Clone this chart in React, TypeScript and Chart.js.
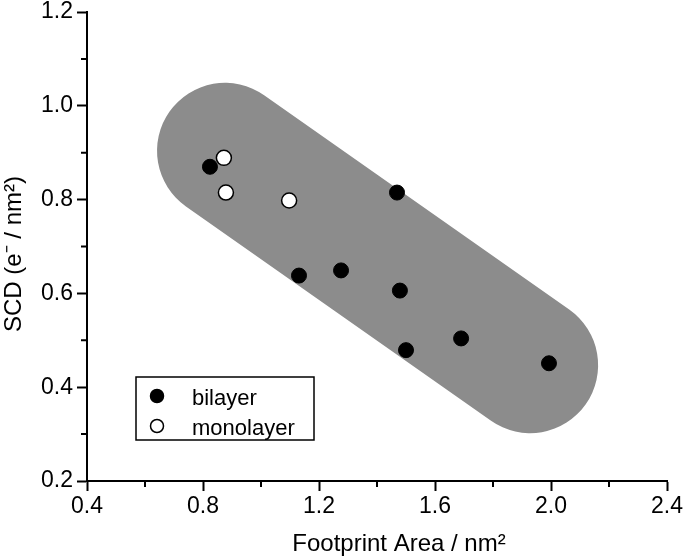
import React, { useEffect, useRef } from "react";
import { Chart, registerables } from "chart.js";

Chart.register(...registerables);

// Data
const bilayerX = [0.824, 1.469, 1.131, 1.276, 1.479, 1.5, 1.69, 1.993];
const bilayerY = [0.87, 0.815, 0.638, 0.649, 0.606, 0.479, 0.504, 0.451];
const monolayerX = [0.872, 0.879, 1.097];
const monolayerY = [0.889, 0.815, 0.798];
// Capsule (shaded region) axis end points
const capsuleX = [0.876, 1.928];
const capsuleY = [0.904, 0.447];

const xMajorTicks = [0.4, 0.8, 1.2, 1.6, 2.0, 2.4];
const xMinorTicks = [0.6, 1.0, 1.4, 1.8, 2.2];
const yMajorTicks = [0.2, 0.4, 0.6, 0.8, 1.0, 1.2];
const yMinorTicks = [0.3, 0.5, 0.7, 0.9, 1.1];

const seriesNames = ["bilayer", "monolayer"];
const xTitle = "Footprint Area / nm\u00B2";
const yTitle = "SCD (e\u207B / nm\u00B2)";

const FONT = "'Liberation Sans', Arial, sans-serif";

const decorPlugin = {
  id: "decor",
  afterDraw(chart: any) {
    const { ctx, chartArea, scales } = chart;
    const xs = scales.x;
    const ys = scales.y;
    ctx.save();
    // minor ticks
    ctx.strokeStyle = "#000";
    ctx.lineWidth = 2;
    ctx.beginPath();
    xMinorTicks.forEach((v) => {
      const px = xs.getPixelForValue(v);
      ctx.moveTo(px, chartArea.bottom);
      ctx.lineTo(px, chartArea.bottom + 6);
    });
    yMinorTicks.forEach((v) => {
      const py = ys.getPixelForValue(v);
      ctx.moveTo(chartArea.left, py);
      ctx.lineTo(chartArea.left - 6, py);
    });
    ctx.stroke();

    // legend
    const bx = chartArea.left + 49;
    const by = chartArea.bottom - 104;
    const bw = 178;
    const bh = 63;
    ctx.lineWidth = 1.5;
    ctx.strokeStyle = "#000";
    ctx.fillStyle = "#fff";
    ctx.fillRect(bx, by, bw, bh);
    ctx.strokeRect(bx, by, bw, bh);
    const rows = [
      { fill: "#000", y: by + 19 },
      { fill: "#fff", y: by + 49 },
    ];
    rows.forEach((r, i) => {
      ctx.beginPath();
      ctx.arc(bx + 21, r.y, 6.5, 0, Math.PI * 2);
      ctx.fillStyle = r.fill;
      ctx.fill();
      ctx.lineWidth = 1.5;
      ctx.strokeStyle = "#000";
      ctx.stroke();
      ctx.fillStyle = "#000";
      ctx.font = `22px ${FONT}`;
      ctx.textAlign = "left";
      ctx.textBaseline = "alphabetic";
      ctx.fillText(seriesNames[i], bx + 56, r.y + 9);
    });

    // axis titles
    ctx.fillStyle = "#000";
    ctx.font = `24px ${FONT}`;
    ctx.textAlign = "center";
    ctx.textBaseline = "middle";
    ctx.fillText(xTitle, 399, 544);
    ctx.save();
    ctx.translate(14, 254);
    ctx.rotate(-Math.PI / 2);
    ctx.fillText(yTitle, 0, 0);
    ctx.restore();
    ctx.restore();
  },
};

export default function App() {
  const ref = useRef<HTMLCanvasElement>(null);
  useEffect(() => {
    document.body.style.margin = "0";
    const canvas = ref.current!;
    const chart = new Chart(canvas, {
      type: "scatter",
      data: {
        datasets: [
          {
            label: seriesNames[1],
            data: monolayerX.map((x, i) => ({ x, y: monolayerY[i] })),
            backgroundColor: "#fff",
            borderColor: "#000",
            borderWidth: 1.5,
            pointRadius: 7.5,
            order: 0,
          },
          {
            label: seriesNames[0],
            data: bilayerX.map((x, i) => ({ x, y: bilayerY[i] })),
            backgroundColor: "#000",
            borderColor: "#000",
            borderWidth: 1,
            pointRadius: 7.5,
            order: 1,
          },
          {
            type: "line" as any,
            label: "region",
            data: capsuleX.map((x, i) => ({ x, y: capsuleY[i] })),
            borderColor: "#8c8c8c",
            borderWidth: 136,
            borderCapStyle: "round",
            pointRadius: 0,
            showLine: true,
            clip: false as any,
            order: 2,
          } as any,
        ],
      },
      options: {
        animation: false,
        responsive: false,
        devicePixelRatio: 1,
        layout: { padding: { left: 0, right: 18, top: 12, bottom: 0 } },
        plugins: { legend: { display: false }, tooltip: { enabled: false } },
        scales: {
          x: {
            type: "linear",
            min: 0.4,
            max: 2.4,
            afterBuildTicks: (s: any) => {
              s.ticks = xMajorTicks.map((v) => ({ value: v }));
            },
            afterFit: (s: any) => {
              s.height = 77;
              s.paddingLeft = 0;
              s.paddingRight = 0;
            },
            ticks: {
              color: "#000",
              font: { family: FONT, size: 23 },
              padding: 2,
              maxRotation: 0,
              callback: (v: any) => Number(v).toFixed(1),
            },
            grid: {
              drawOnChartArea: false,
              tickLength: 10,
              tickWidth: 2,
              tickColor: "#000",
            },
            border: { color: "#000", width: 2 },
          },
          y: {
            type: "linear",
            min: 0.2,
            max: 1.2,
            afterBuildTicks: (s: any) => {
              s.ticks = yMajorTicks.map((v) => ({ value: v }));
            },
            afterFit: (s: any) => {
              s.width = 87;
              s.paddingTop = 0;
              s.paddingBottom = 0;
            },
            ticks: {
              color: "#000",
              font: { family: FONT, size: 23 },
              padding: 4,
              callback: (v: any) => Number(v).toFixed(1),
            },
            grid: {
              drawOnChartArea: false,
              tickLength: 10,
              tickWidth: 2,
              tickColor: "#000",
            },
            border: { color: "#000", width: 2 },
          },
        },
      },
      plugins: [decorPlugin],
    });
    return () => chart.destroy();
  }, []);
  return (
    <div style={{ width: 685, height: 558 }}>
      <canvas ref={ref} width={685} height={558} style={{ display: "block" }} />
    </div>
  );
}
